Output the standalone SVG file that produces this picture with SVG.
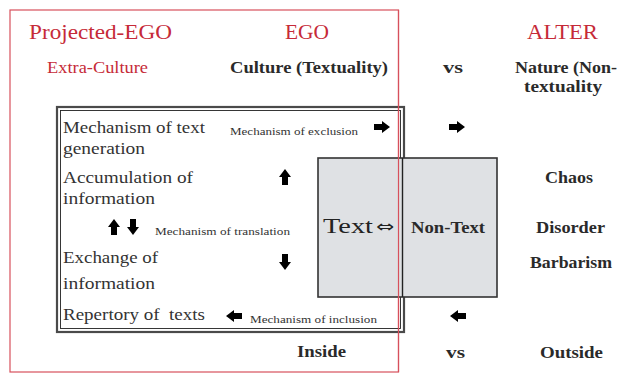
<svg xmlns="http://www.w3.org/2000/svg" width="619" height="373" viewBox="0 0 619 373">
  <style>
    .hd { font-family: "Liberation Serif", "Times New Roman", serif; fill: #c62a38; }
    .bd { font-family: "Liberation Serif", "Times New Roman", serif; font-size: 16px; fill: #333333; }
    .bb { font-family: "Liberation Serif", "Times New Roman", serif; font-size: 16px; font-weight: bold; fill: #2a2a2a; }
    .sm { font-family: "Liberation Serif", "Times New Roman", serif; font-size: 11px; fill: #333333; }
    .arr { fill: #000; }
  </style>
  <defs>
    <path id="blk" d="M0,-3 H8 V-6 L16,0 L8,6 V3 H0 Z"/>
  </defs>
  <rect width="619" height="373" fill="#ffffff"/>

  <g id="ego-frame">
    <rect x="10" y="10" width="388.5" height="362" fill="none" stroke="#d7505c" stroke-width="1.2"/>
  </g>

  <g id="headers">
    <text class="hd" x="29" y="39" font-size="22" textLength="143" lengthAdjust="spacingAndGlyphs">Projected-EGO</text>
    <text class="hd" x="285" y="39" font-size="22" textLength="44" lengthAdjust="spacingAndGlyphs">EGO</text>
    <text class="hd" x="527" y="39" font-size="22" textLength="71" lengthAdjust="spacingAndGlyphs">ALTER</text>
    <text class="hd" x="47" y="73" font-size="17" textLength="101" lengthAdjust="spacingAndGlyphs">Extra-Culture</text>
    <text class="bb" x="230" y="73" textLength="158" lengthAdjust="spacingAndGlyphs">Culture (Textuality)</text>
    <text class="bb" x="443" y="73" textLength="20" lengthAdjust="spacingAndGlyphs">vs</text>
    <text class="bb" x="515" y="73" textLength="102" lengthAdjust="spacingAndGlyphs">Nature (Non-</text>
    <text class="bb" x="524" y="92" textLength="78" lengthAdjust="spacingAndGlyphs">textuality</text>
  </g>

  <g id="culture-box">
    <rect x="57" y="107" width="347" height="225" fill="none" stroke="#4a4a4a" stroke-width="2.2"/>
    <rect x="60.5" y="110.5" width="340" height="218" fill="none" stroke="#222" stroke-width="0.9"/>
  </g>

  <g id="text-nontext">
    <rect x="318" y="158" width="179" height="139" fill="#dfe1e4" stroke="#333" stroke-width="1.6"/>
    <line x1="402.5" y1="158" x2="402.5" y2="297" stroke="#222" stroke-width="1.4"/>
    <text x="323" y="233" font-family="Liberation Serif, serif" font-size="22" fill="#222" textLength="50" lengthAdjust="spacingAndGlyphs">Text</text>
    <text x="376" y="232" font-family="DejaVu Sans, sans-serif" font-size="16" fill="#222" textLength="18" lengthAdjust="spacingAndGlyphs">⇔</text>
    <text class="bb" x="411" y="233" font-size="17" textLength="74" lengthAdjust="spacingAndGlyphs">Non-Text</text>
  </g>

  <g id="ego-ends">
    <line x1="398.5" y1="10" x2="398.5" y2="372" stroke="#d7505c" stroke-width="1.2"/>
  </g>

  <g id="mechanisms">
    <text class="bd" x="63" y="133" textLength="142" lengthAdjust="spacingAndGlyphs">Mechanism of text</text>
    <text class="bd" x="63" y="154" textLength="82" lengthAdjust="spacingAndGlyphs">generation</text>
    <text class="bd" x="63" y="183" textLength="130" lengthAdjust="spacingAndGlyphs">Accumulation of</text>
    <text class="bd" x="63" y="204" textLength="92" lengthAdjust="spacingAndGlyphs">information</text>
    <text class="bd" x="63" y="263" textLength="95" lengthAdjust="spacingAndGlyphs">Exchange of</text>
    <text class="bd" x="63" y="289" textLength="92" lengthAdjust="spacingAndGlyphs">information</text>
    <text class="bd" x="63" y="320" textLength="142" lengthAdjust="spacingAndGlyphs" xml:space="preserve">Repertory of  texts</text>
    <text class="sm" x="230" y="135" textLength="128" lengthAdjust="spacingAndGlyphs">Mechanism of exclusion</text>
    <text class="sm" x="155" y="235" textLength="135" lengthAdjust="spacingAndGlyphs">Mechanism of translation</text>
    <text class="sm" x="250" y="323" textLength="127" lengthAdjust="spacingAndGlyphs">Mechanism of inclusion</text>
  </g>

  <g id="alter-list">
    <text class="bb" x="545" y="183" textLength="48" lengthAdjust="spacingAndGlyphs">Chaos</text>
    <text class="bb" x="536" y="233" textLength="69" lengthAdjust="spacingAndGlyphs">Disorder</text>
    <text class="bb" x="530" y="268" textLength="82" lengthAdjust="spacingAndGlyphs">Barbarism</text>
  </g>

  <g id="footer">
    <text class="bb" x="297" y="357" textLength="49" lengthAdjust="spacingAndGlyphs">Inside</text>
    <text class="bb" x="446" y="358" textLength="19" lengthAdjust="spacingAndGlyphs">vs</text>
    <text class="bb" x="540" y="358" textLength="63" lengthAdjust="spacingAndGlyphs">Outside</text>
  </g>

  <g id="connectors" class="arr">
    <use href="#blk" transform="translate(374,127)"/>
    <use href="#blk" transform="translate(449,127)"/>
    <use href="#blk" transform="translate(285,185) rotate(-90)"/>
    <use href="#blk" transform="translate(114,235) rotate(-90)"/>
    <use href="#blk" transform="translate(133,219) rotate(90)"/>
    <use href="#blk" transform="translate(285,254) rotate(90)"/>
    <use href="#blk" transform="translate(242,316) rotate(180)"/>
    <use href="#blk" transform="translate(466,316) rotate(180)"/>
  </g>
</svg>
